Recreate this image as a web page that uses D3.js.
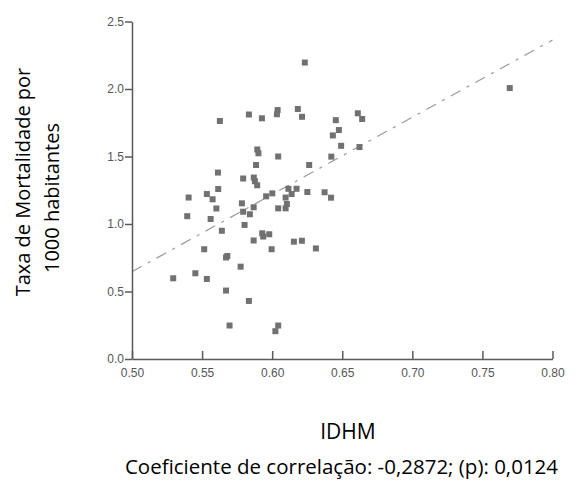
<!DOCTYPE html>
<html>
<head>
<meta charset="utf-8">
<script src="https://cdn.jsdelivr.net/npm/d3@7"></script>
<style>
  body { margin: 0; background: #fff; }
  .axis text { font-family: "Liberation Sans", Arial, sans-serif; font-size: 12px; fill: #555; }
  .axis path, .axis line { stroke: #5a5a5a; stroke-width: 1.5; }
  .title { font-family: "Open Sans", "Noto Sans", sans-serif; fill: #000; }
</style>
</head>
<body>
<div id="chart"></div>
<script>
// IDHM vs taxa de mortalidade (por 1000 hab.) por município
var idhm = [
  0.5627, 0.5834, 0.5927, 0.6039, 0.6034, 0.6183, 0.6213, 0.6233, 0.5894, 0.5902,
  0.6043, 0.5885, 0.6264, 0.6454, 0.6476, 0.6433, 0.6492, 0.6422, 0.6611, 0.6642,
  0.6623, 0.7695, 0.5613, 0.5793, 0.5869, 0.5877, 0.5893, 0.5615, 0.5404, 0.5534,
  0.5575, 0.5602, 0.5394, 0.5561, 0.5641, 0.5784, 0.5793, 0.5841, 0.5868, 0.5803,
  0.5957, 0.6001, 0.6096, 0.6116, 0.6139, 0.6174, 0.6105, 0.6096, 0.6043, 0.6251,
  0.6374, 0.6420, 0.5868, 0.5929, 0.5936, 0.5979, 0.5996, 0.6155, 0.6212, 0.6312,
  0.5515, 0.5680, 0.5671, 0.5775, 0.5294, 0.5452, 0.5534, 0.5671, 0.5834, 0.5696,
  0.6023, 0.6043
];
var taxa = [
  1.763, 1.811, 1.783, 1.844, 1.813, 1.852, 1.794, 2.196, 1.552, 1.524,
  1.500, 1.437, 1.437, 1.769, 1.696, 1.656, 1.579, 1.499, 1.820, 1.778,
  1.570, 2.007, 1.381, 1.337, 1.344, 1.317, 1.287, 1.259, 1.196, 1.222,
  1.183, 1.115, 1.058, 1.037, 0.950, 1.153, 1.091, 1.072, 1.124, 0.993,
  1.205, 1.227, 1.196, 1.261, 1.222, 1.261, 1.148, 1.116, 1.116, 1.237,
  1.235, 1.195, 0.878, 0.931, 0.907, 0.924, 0.813, 0.869, 0.876, 0.819,
  0.813, 0.763, 0.752, 0.684, 0.598, 0.635, 0.593, 0.507, 0.430, 0.248,
  0.206, 0.248
];
// reta ajustada: valores nas extremidades do eixo x
var fitX = [0.50, 0.80];
var fitY = [0.647, 2.363];

var xTicks = [0.50, 0.55, 0.60, 0.65, 0.70, 0.75, 0.80];
var yTicks = [0.0, 0.5, 1.0, 1.5, 2.0, 2.5];

var xTitle = "IDHM";
var yTitle = ["Taxa de Mortalidade por", "1000 habitantes"];
var caption = "Coeficiente de correlação: -0,2872; (p): 0,0124";

var width = 579,
    height = 482,
    margin = {top: 21.5, right: 26.5, bottom: 123, left: 132};

var svg = d3.select("#chart")
    .append("svg")
    .attr("width", width)
    .attr("height", height);

var x = d3.scaleLinear()
    .domain([0.50, 0.80])
    .range([margin.left, width - margin.right]);

var y = d3.scaleLinear()
    .domain([0, 2.5])
    .range([height - margin.bottom, margin.top]);

// linha de tendência (traço-ponto)
var line = d3.line()
    .x(function(d){ return x(d[0]); })
    .y(function(d){ return y(d[1]); });

svg.append("path")
    .attr("d", line(d3.zip(fitX, fitY)))
    .attr("fill", "none")
    .attr("stroke", "#9a9a9a")
    .attr("stroke-width", 1.2)
    .attr("stroke-dasharray", "11,7,3,7");

// pontos
var pts = d3.zip(idhm, taxa);
var s = 6;
svg.append("g")
    .selectAll("rect")
    .data(pts)
    .enter().append("rect")
    .attr("x", function(d){ return x(d[0]) - s / 2; })
    .attr("y", function(d){ return y(d[1]) - s / 2; })
    .attr("width", s)
    .attr("height", s)
    .attr("fill", "#717171");

var xAxis = d3.axisBottom(x)
    .tickValues(xTicks)
    .tickFormat(d3.format(".2f"))
    .tickSizeInner(-8)
    .tickSizeOuter(0)
    .tickPadding(9);

var yAxis = d3.axisLeft(y)
    .tickValues(yTicks)
    .tickFormat(d3.format(".1f"))
    .tickSizeInner(7)
    .tickSizeOuter(0)
    .tickPadding(1);

svg.append("g")
    .attr("class", "axis")
    .attr("transform", "translate(0," + (height - margin.bottom) + ")")
    .call(xAxis);

svg.append("g")
    .attr("class", "axis")
    .attr("transform", "translate(" + margin.left + ",0)")
    .call(yAxis);

// títulos
svg.append("text")
    .attr("class", "title")
    .attr("x", 348)
    .attr("y", 439)
    .attr("text-anchor", "middle")
    .style("font-size", "21px")
    .text(xTitle);

svg.append("text")
    .attr("class", "title")
    .attr("x", 341.5)
    .attr("y", 474)
    .attr("text-anchor", "middle")
    .style("font-size", "20.5px")
    .text(caption);

// título do eixo y em duas linhas (centros ao longo do eixo)
var yLinePos = [[23, 182], [52, 198]];
svg.selectAll("text.ytitle")
    .data(yTitle)
    .enter().append("text")
    .attr("class", "title ytitle")
    .attr("transform", function(d, i){
        return "translate(" + yLinePos[i][0] + "," + yLinePos[i][1] + ") rotate(-90)";
    })
    .attr("text-anchor", "middle")
    .attr("dy", "0.35em")
    .style("font-size", "20px")
    .text(function(d){ return d; });
</script>
</body>
</html>
